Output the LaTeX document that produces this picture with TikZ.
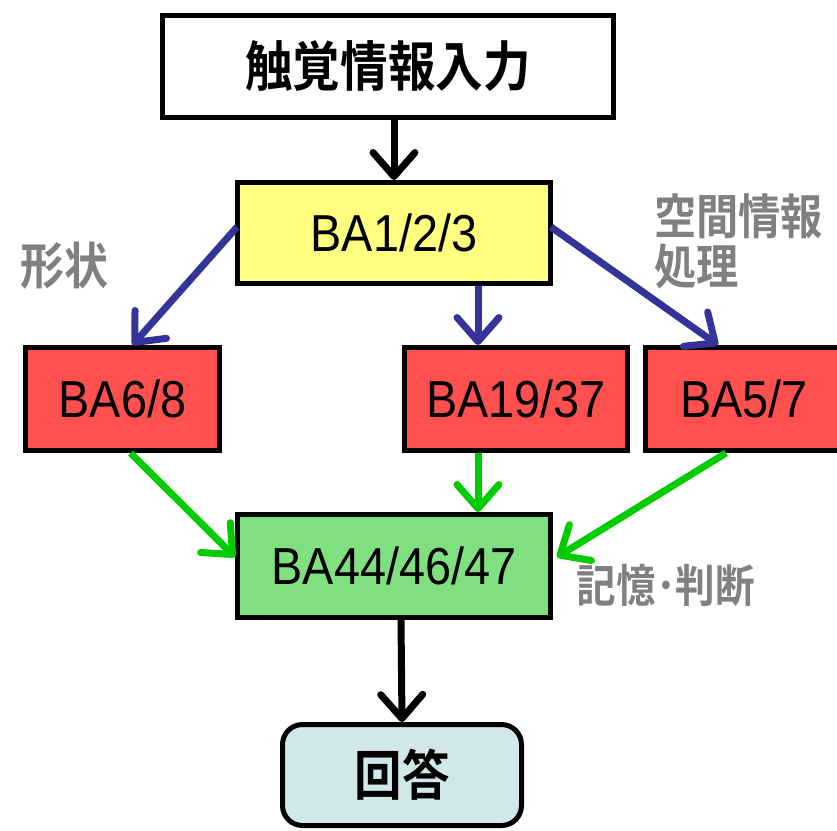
\documentclass[tikz,border=0pt]{standalone}
\usepackage{fontspec}
\setmainfont{Liberation Sans}[FakeStretch=0.9]
\newfontfamily\jpb{Noto Sans CJK JP Bold}[FakeStretch=0.88]
\usetikzlibrary{arrows.meta,calc}
\definecolor{byellow}{HTML}{FFFF80}
\definecolor{bred}{HTML}{FF5050}
\definecolor{bgreen}{HTML}{80E080}
\definecolor{bcyan}{HTML}{D0E8E8}
\definecolor{ablue}{HTML}{333399}
\definecolor{agreen}{HTML}{00CC00}
\definecolor{lgray}{HTML}{808080}
\tikzset{
  box/.style={draw=black,line width=5pt,inner sep=0pt,font=\fontsize{52}{56}\selectfont},
  jbox/.style={box,font=\jpb\fontsize{54}{58}\selectfont},
  lab/.style={text=lgray,font=\jpb\fontsize{48}{50}\selectfont,inner sep=0pt,align=left},
  arr/.style={line width=7pt,-{Straight Barb[length=24pt,width=42pt,round]}},
}
\begin{document}
\begin{tikzpicture}[x=1pt,y=-1pt]
\useasboundingbox (0,0) rectangle (837,830);
\node[jbox,minimum width=451pt,minimum height=102pt] (in) at (388,66.5) {触覚情報入力};
\node[box,fill=byellow,minimum width=313pt,minimum height=101pt] (ba1) at (394,233) {BA1/2/3};
\node[box,fill=bred,minimum width=194pt,minimum height=103pt] (ba6) at (122.5,399) {BA6/8};
\node[box,fill=bred,minimum width=223pt,minimum height=103pt] (ba19) at (516,399) {BA19/37};
\node[box,fill=bred,minimum width=197pt,minimum height=103pt] (ba5) at (744,399) {BA5/7};
\node[box,fill=bgreen,minimum width=313pt,minimum height=103pt] (ba44) at (394,566) {BA44/46/47};
\node[jbox,fill=bcyan,rounded corners=20pt,minimum width=239pt,minimum height=101pt] (ans) at (402,775) {回答};
\node[lab,font=\jpb\fontsize{50}{50}\selectfont] (shape) at (64,266) {形状};
\node[lab,anchor=north west] (space) at (654,193) {空間情報\\処理};
\node[lab,font=\jpb\fontsize{45}{46}\selectfont] (mem) at (666,585) {記憶･判断};
\draw[arr,black] (in.south -| ba1.north) -- (ba1.north);
\draw[arr,ablue] ($(ba1.west)+(2,-6)$) -- ($(ba6.north)+(10,0)$);
\draw[arr,ablue] ($(ba1.south -| ba19.north)+(-38,0)$) -- ($(ba19.north)+(-38,0)$);
\draw[arr,ablue] ($(ba1.east)+(-2,-6)$) -- ($(ba5.north)+(-26,0)$);
\draw[arr,agreen] ($(ba6.south)+(8,0)$) -- ($(ba44.west)+(0,-9)$);
\draw[arr,agreen] ($(ba19.south)+(-38,0)$) -- ($(ba44.north)+(84,0)$);
\draw[arr,agreen] ($(ba5.south)+(-18,0)$) -- ($(ba44.east)+(4,-9)$);
\draw[arr,black] ($(ba44.south)+(7,0)$) -- (ans.north);
\end{tikzpicture}
\end{document}
